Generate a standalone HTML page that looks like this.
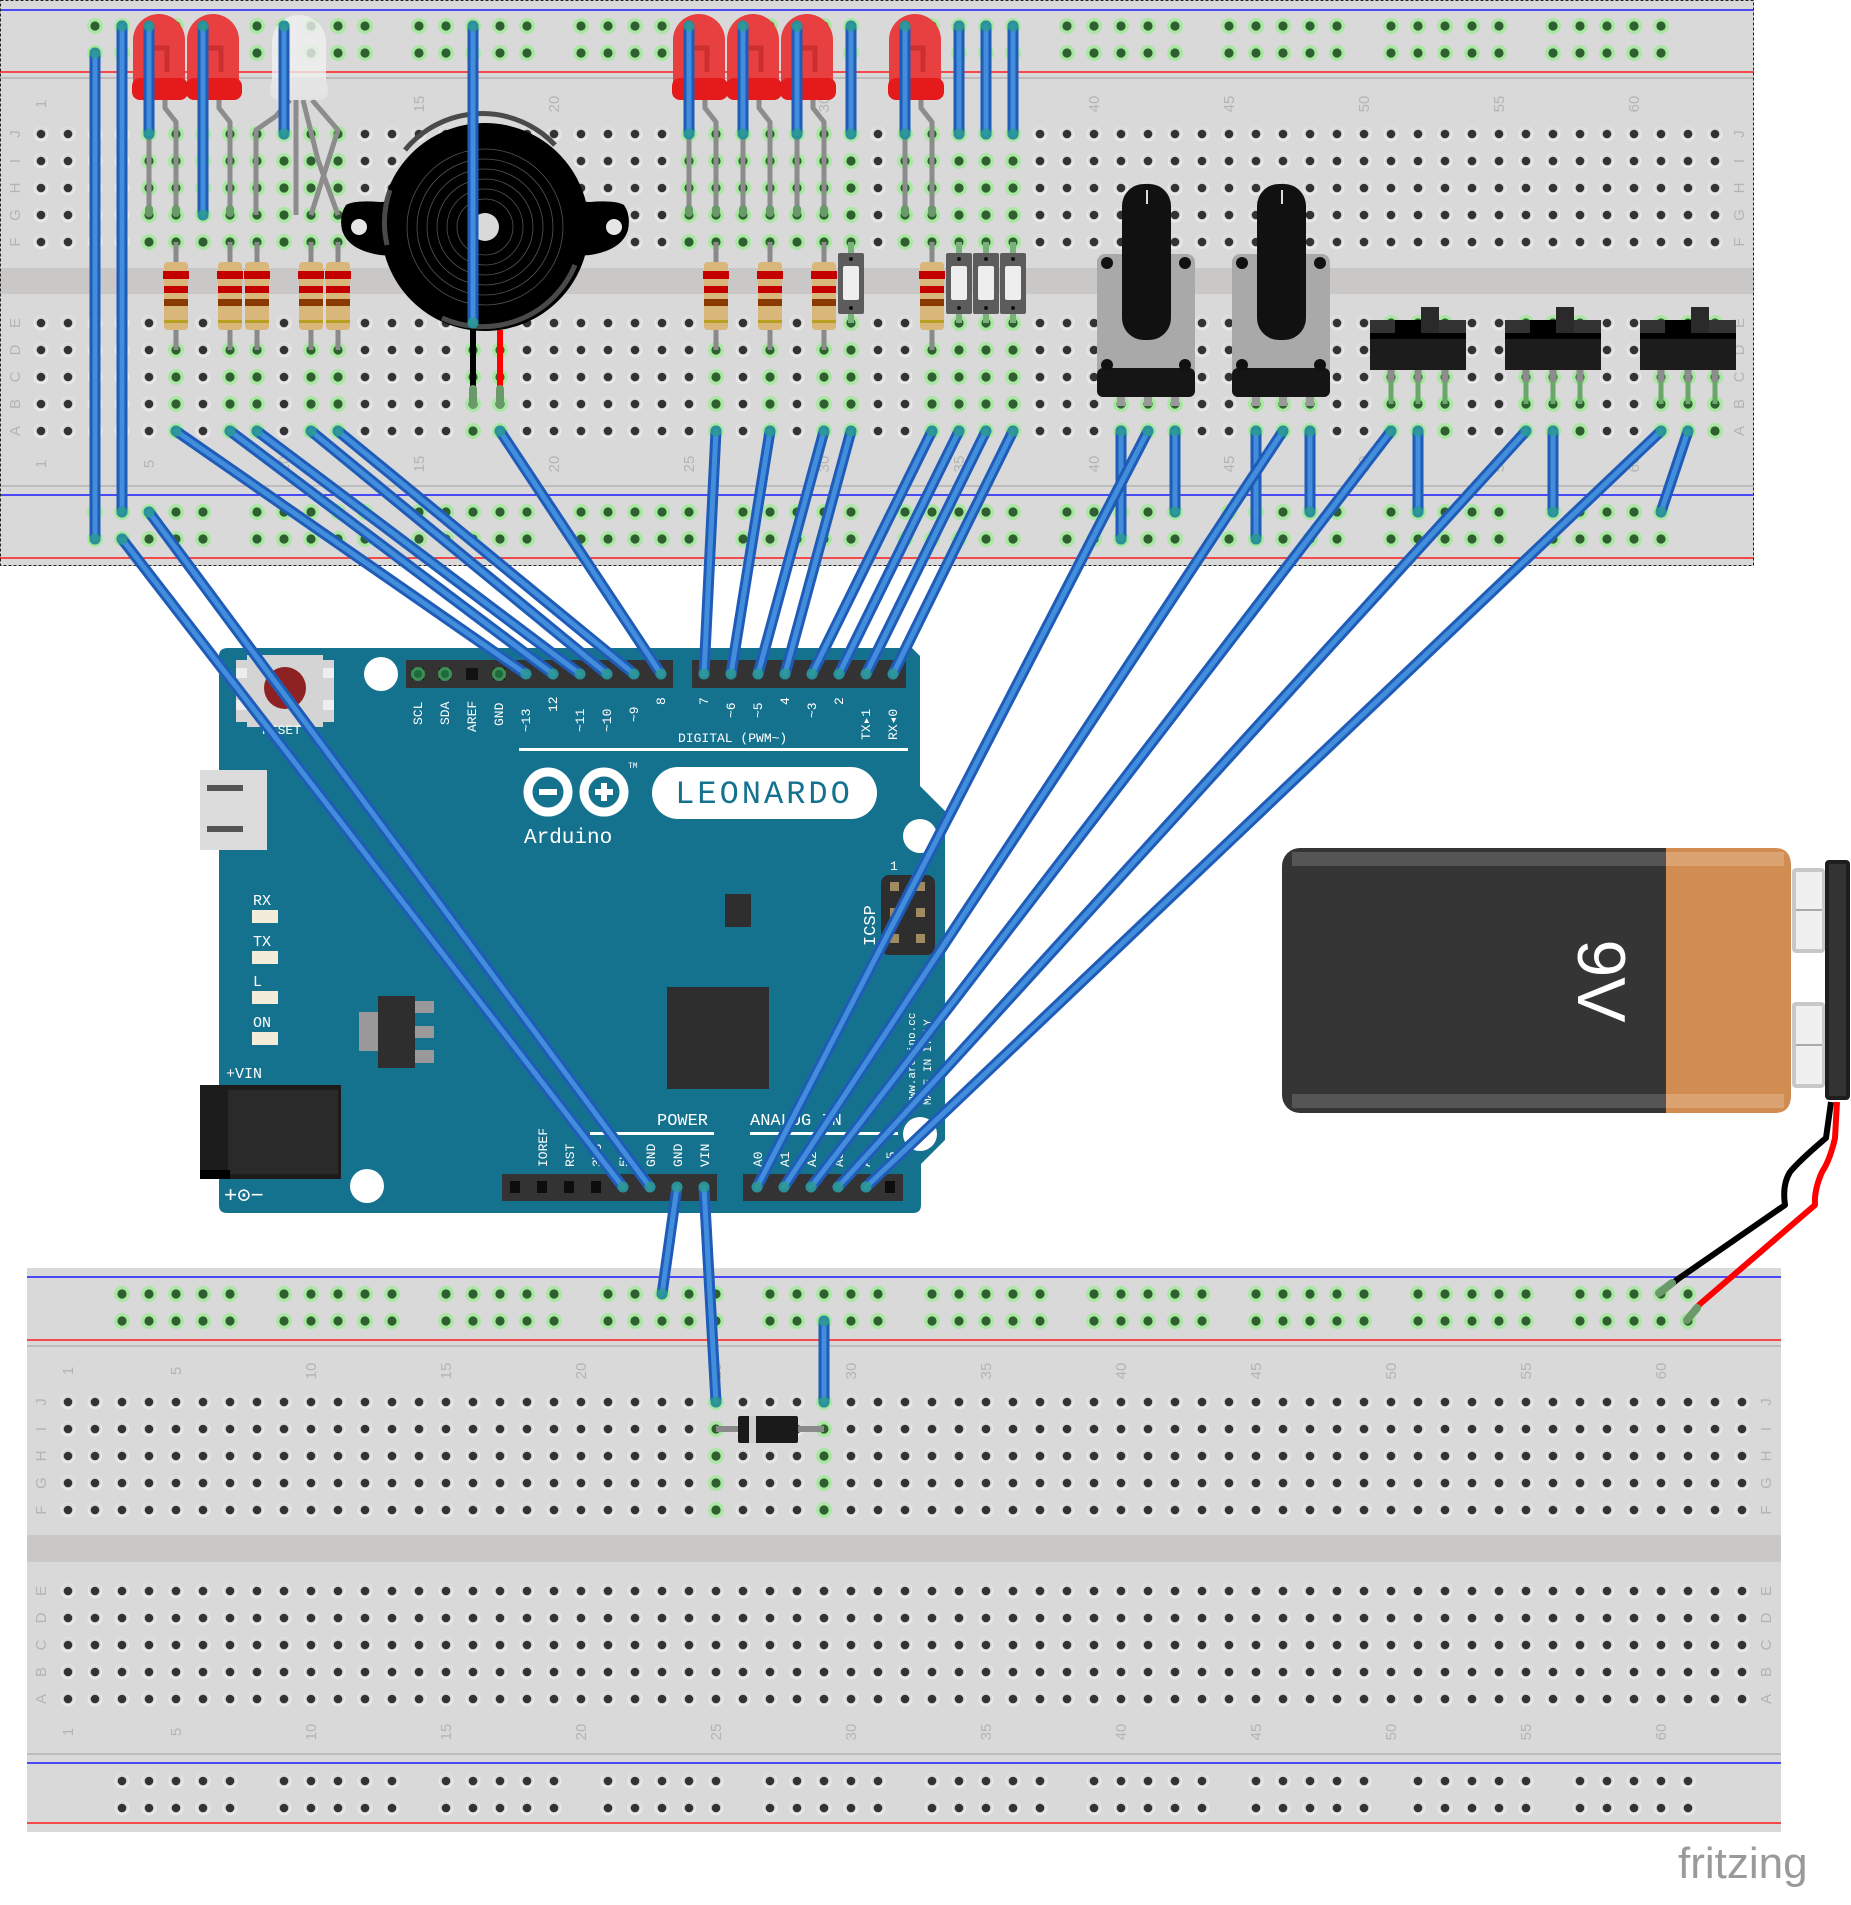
<!DOCTYPE html>
<html><head><meta charset="utf-8">
<style>
html,body{margin:0;padding:0;background:#fff;}
svg{display:block;}
.lbl{font-family:"Liberation Sans",sans-serif;font-size:15px;fill:#b4b4b4;}
.ard{font-family:"Liberation Mono",monospace;fill:#fff;}
</style></head>
<body>
<svg id="s" width="1851" height="1905" viewBox="0 0 1851 1905" xmlns="http://www.w3.org/2000/svg">
<rect x="0" y="0" width="1754" height="566" fill="#d9d9d9"/>
<rect x="0" y="268" width="1754" height="26" fill="#cac8c6"/>
<line x1="0" y1="10" x2="1754" y2="10" stroke="#1a1aff" stroke-width="1.5"/>
<line x1="0" y1="72" x2="1754" y2="72" stroke="#ff1a1a" stroke-width="1.5"/>
<line x1="0" y1="78" x2="1754" y2="78" stroke="#bdbdbd" stroke-width="2"/>
<line x1="0" y1="486" x2="1754" y2="486" stroke="#bdbdbd" stroke-width="2"/>
<line x1="0" y1="495" x2="1754" y2="495" stroke="#1a1aff" stroke-width="1.5"/>
<line x1="0" y1="558" x2="1754" y2="558" stroke="#ff1a1a" stroke-width="1.5"/>
<rect x="0.5" y="0.5" width="1753" height="565" fill="none" stroke="#222" stroke-dasharray="3,2"/>
<rect x="27" y="1268" width="1754" height="564" fill="#d9d9d9"/>
<rect x="27" y="1535" width="1754" height="27" fill="#cac8c6"/>
<line x1="27" y1="1277" x2="1781" y2="1277" stroke="#1a1aff" stroke-width="1.5"/>
<line x1="27" y1="1340" x2="1781" y2="1340" stroke="#ff1a1a" stroke-width="1.5"/>
<line x1="27" y1="1346" x2="1781" y2="1346" stroke="#bdbdbd" stroke-width="2"/>
<line x1="27" y1="1754" x2="1781" y2="1754" stroke="#bdbdbd" stroke-width="2"/>
<line x1="27" y1="1763" x2="1781" y2="1763" stroke="#1a1aff" stroke-width="1.5"/>
<line x1="27" y1="1823" x2="1781" y2="1823" stroke="#ff1a1a" stroke-width="1.5"/>

<g class="lbl" text-anchor="middle">
<text transform="translate(46,104) rotate(-90)">1</text><text transform="translate(154,104) rotate(-90)">5</text><text transform="translate(289,104) rotate(-90)">10</text><text transform="translate(424,104) rotate(-90)">15</text><text transform="translate(559,104) rotate(-90)">20</text><text transform="translate(694,104) rotate(-90)">25</text><text transform="translate(829,104) rotate(-90)">30</text><text transform="translate(964,104) rotate(-90)">35</text><text transform="translate(1099,104) rotate(-90)">40</text><text transform="translate(1234,104) rotate(-90)">45</text><text transform="translate(1369,104) rotate(-90)">50</text><text transform="translate(1504,104) rotate(-90)">55</text><text transform="translate(1639,104) rotate(-90)">60</text>
<text transform="translate(46,464) rotate(-90)">1</text><text transform="translate(154,464) rotate(-90)">5</text><text transform="translate(289,464) rotate(-90)">10</text><text transform="translate(424,464) rotate(-90)">15</text><text transform="translate(559,464) rotate(-90)">20</text><text transform="translate(694,464) rotate(-90)">25</text><text transform="translate(829,464) rotate(-90)">30</text><text transform="translate(964,464) rotate(-90)">35</text><text transform="translate(1099,464) rotate(-90)">40</text><text transform="translate(1234,464) rotate(-90)">45</text><text transform="translate(1369,464) rotate(-90)">50</text><text transform="translate(1504,464) rotate(-90)">55</text><text transform="translate(1639,464) rotate(-90)">60</text>
<text transform="translate(20,134) rotate(-90)">J</text><text transform="translate(20,161) rotate(-90)">I</text><text transform="translate(20,188) rotate(-90)">H</text><text transform="translate(20,215) rotate(-90)">G</text><text transform="translate(20,242) rotate(-90)">F</text>
<text transform="translate(20,323) rotate(-90)">E</text><text transform="translate(20,350) rotate(-90)">D</text><text transform="translate(20,377) rotate(-90)">C</text><text transform="translate(20,404) rotate(-90)">B</text><text transform="translate(20,431) rotate(-90)">A</text>
<text transform="translate(1744,134) rotate(-90)">J</text><text transform="translate(1744,161) rotate(-90)">I</text><text transform="translate(1744,188) rotate(-90)">H</text><text transform="translate(1744,215) rotate(-90)">G</text><text transform="translate(1744,242) rotate(-90)">F</text>
<text transform="translate(1744,323) rotate(-90)">E</text><text transform="translate(1744,350) rotate(-90)">D</text><text transform="translate(1744,377) rotate(-90)">C</text><text transform="translate(1744,404) rotate(-90)">B</text><text transform="translate(1744,431) rotate(-90)">A</text>
<text transform="translate(73,1371) rotate(-90)">1</text><text transform="translate(181,1371) rotate(-90)">5</text><text transform="translate(316,1371) rotate(-90)">10</text><text transform="translate(451,1371) rotate(-90)">15</text><text transform="translate(586,1371) rotate(-90)">20</text><text transform="translate(721,1371) rotate(-90)">25</text><text transform="translate(856,1371) rotate(-90)">30</text><text transform="translate(991,1371) rotate(-90)">35</text><text transform="translate(1126,1371) rotate(-90)">40</text><text transform="translate(1261,1371) rotate(-90)">45</text><text transform="translate(1396,1371) rotate(-90)">50</text><text transform="translate(1531,1371) rotate(-90)">55</text><text transform="translate(1666,1371) rotate(-90)">60</text>
<text transform="translate(73,1732) rotate(-90)">1</text><text transform="translate(181,1732) rotate(-90)">5</text><text transform="translate(316,1732) rotate(-90)">10</text><text transform="translate(451,1732) rotate(-90)">15</text><text transform="translate(586,1732) rotate(-90)">20</text><text transform="translate(721,1732) rotate(-90)">25</text><text transform="translate(856,1732) rotate(-90)">30</text><text transform="translate(991,1732) rotate(-90)">35</text><text transform="translate(1126,1732) rotate(-90)">40</text><text transform="translate(1261,1732) rotate(-90)">45</text><text transform="translate(1396,1732) rotate(-90)">50</text><text transform="translate(1531,1732) rotate(-90)">55</text><text transform="translate(1666,1732) rotate(-90)">60</text>
<text transform="translate(46,1402) rotate(-90)">J</text><text transform="translate(46,1429) rotate(-90)">I</text><text transform="translate(46,1456) rotate(-90)">H</text><text transform="translate(46,1483) rotate(-90)">G</text><text transform="translate(46,1510) rotate(-90)">F</text>
<text transform="translate(46,1591) rotate(-90)">E</text><text transform="translate(46,1618) rotate(-90)">D</text><text transform="translate(46,1645) rotate(-90)">C</text><text transform="translate(46,1672) rotate(-90)">B</text><text transform="translate(46,1699) rotate(-90)">A</text>
<text transform="translate(1771,1402) rotate(-90)">J</text><text transform="translate(1771,1429) rotate(-90)">I</text><text transform="translate(1771,1456) rotate(-90)">H</text><text transform="translate(1771,1483) rotate(-90)">G</text><text transform="translate(1771,1510) rotate(-90)">F</text>
<text transform="translate(1771,1591) rotate(-90)">E</text><text transform="translate(1771,1618) rotate(-90)">D</text><text transform="translate(1771,1645) rotate(-90)">C</text><text transform="translate(1771,1672) rotate(-90)">B</text><text transform="translate(1771,1699) rotate(-90)">A</text>
</g>

<g id="holes"></g>
<g id="comps"></g>

<g>
<path d="M346,205 Q339,215 342,230 Q348,250 380,255 L420,258 L420,200 L380,202 Q355,200 346,205Z" fill="#000"/>
<path d="M624,205 Q631,215 628,230 Q622,250 590,255 L550,258 L550,200 L590,202 Q615,200 624,205Z" fill="#000"/>
<circle cx="359" cy="227" r="8" fill="#e6e6e6"/>
<circle cx="614" cy="227" r="8" fill="#e6e6e6"/>
<circle cx="485" cy="227" r="104" fill="#000"/>
<path d="M405,150 A100,100 0 0 1 555,145" fill="none" stroke="#4a4a4a" stroke-width="5"/>
<path d="M442,318 A100,100 0 0 0 575,265" fill="none" stroke="#4a4a4a" stroke-width="5"/>
<path d="M387,245 A100,100 0 0 1 390,190" fill="none" stroke="#4a4a4a" stroke-width="5"/>
<g fill="none" stroke="#555" stroke-width="0.8">
<circle cx="485" cy="227" r="78"/><circle cx="485" cy="227" r="68"/><circle cx="485" cy="227" r="58"/><circle cx="485" cy="227" r="48"/><circle cx="485" cy="227" r="38"/><circle cx="485" cy="227" r="28"/>
</g>
<circle cx="485" cy="227" r="14" fill="#d9d9d9"/>
<rect x="470" y="330" width="6" height="70" fill="#000"/>
<rect x="497" y="330" width="6" height="60" fill="#f00"/>
<rect x="469" y="385" width="8" height="24" rx="4" fill="#6a9a6a"/>
<rect x="496" y="385" width="8" height="24" rx="4" fill="#6a9a6a"/>
</g>

<g>
<path d="M228,648 H912 L920,656 V786 L945,811 V1140 L921,1164 V1205 Q921,1213 913,1213 H227 Q219,1213 219,1205 V656 Q219,648 228,648Z" fill="#15728f"/>
<rect x="236" y="660" width="98" height="62" fill="#d4d4d4"/>
<rect x="247" y="655" width="76" height="72" fill="#d4d4d4"/>
<rect x="236" y="668" width="11" height="10" fill="#eee"/><rect x="323" y="668" width="11" height="10" fill="#eee"/>
<rect x="236" y="700" width="11" height="10" fill="#eee"/><rect x="323" y="700" width="11" height="10" fill="#eee"/>
<circle cx="285" cy="688" r="21" fill="#8e2222"/>
<text class="ard" x="262" y="734" font-size="13">RESET</text>
<circle cx="381" cy="674" r="17" fill="#fff"/>
<circle cx="920" cy="836" r="17" fill="#fff"/>
<circle cx="920" cy="1134" r="17" fill="#fff"/>
<circle cx="367" cy="1186" r="17" fill="#fff"/>
<rect x="200" y="770" width="67" height="80" fill="#dcdcdc"/>
<rect x="207" y="785" width="36" height="6" fill="#555"/><rect x="207" y="826" width="36" height="6" fill="#555"/>
<rect x="406" y="660" width="267" height="28" fill="#333"/>
<rect x="692" y="660" width="214" height="28" fill="#333"/>
<g fill="#111"><rect x="412" y="668" width="12" height="12"/><rect x="439" y="668" width="12" height="12"/><rect x="466" y="668" width="12" height="12"/><rect x="493" y="668" width="12" height="12"/></g>
<g class="ard" font-size="13">
<text transform="translate(422,725) rotate(-90)">SCL</text>
<text transform="translate(449,725) rotate(-90)">SDA</text>
<text transform="translate(476,732) rotate(-90)">AREF</text>
<text transform="translate(503,726) rotate(-90)">GND</text>
<text transform="translate(530,732) rotate(-90)">~13</text>
<text transform="translate(557,712) rotate(-90)">12</text>
<text transform="translate(584,732) rotate(-90)">~11</text>
<text transform="translate(611,732) rotate(-90)">~10</text>
<text transform="translate(638,722) rotate(-90)">~9</text>
<text transform="translate(665,705) rotate(-90)">8</text>
<text transform="translate(708,705) rotate(-90)">7</text>
<text transform="translate(735,718) rotate(-90)">~6</text>
<text transform="translate(762,718) rotate(-90)">~5</text>
<text transform="translate(789,705) rotate(-90)">4</text>
<text transform="translate(816,718) rotate(-90)">~3</text>
<text transform="translate(843,705) rotate(-90)">2</text>
<text transform="translate(870,740) rotate(-90)">TX▸1</text>
<text transform="translate(897,740) rotate(-90)">RX◂0</text>
<text x="678" y="742" font-size="13">DIGITAL (PWM~)</text>
</g>
<rect x="519" y="748" width="389" height="3" fill="#fff"/>
<g fill="none" stroke="#fff" stroke-width="9">
<circle cx="548" cy="792" r="20"/><circle cx="604" cy="792" r="20"/>
</g>
<rect x="539" y="789" width="18" height="6" fill="#fff"/>
<rect x="595" y="789" width="18" height="6" fill="#fff"/><rect x="601" y="783" width="6" height="18" fill="#fff"/>
<text class="ard" x="628" y="768" font-size="8">TM</text>
<rect x="652" y="767" width="225" height="52" rx="26" fill="#fff"/>
<text x="764" y="803" text-anchor="middle" font-family="Liberation Mono,monospace" font-size="32" fill="#15728f" letter-spacing="3">LEONARDO</text>
<text class="ard" x="524" y="843" font-size="21">Arduino</text>
<g class="ard" font-size="15">
<text x="253" y="905">RX</text><text x="253" y="946">TX</text><text x="253" y="986">L</text><text x="253" y="1027">ON</text>
</g>
<g fill="#f2ecd8"><rect x="252" y="910" width="26" height="13"/><rect x="252" y="951" width="26" height="13"/><rect x="252" y="991" width="26" height="13"/><rect x="252" y="1032" width="26" height="13"/></g>
<rect x="359" y="1012" width="20" height="39" fill="#999"/>
<g fill="#999"><rect x="415" y="1001" width="19" height="12"/><rect x="415" y="1026" width="19" height="12"/><rect x="415" y="1050" width="19" height="13"/></g>
<rect x="378" y="996" width="37" height="72" fill="#2e2e2e"/>
<text class="ard" x="226" y="1078" font-size="15">+VIN</text>
<rect x="200" y="1085" width="141" height="94" fill="#1c1c1c"/>
<rect x="228" y="1090" width="110" height="84" fill="#2a2a2a"/>
<rect x="200" y="1170" width="30" height="9" fill="#000"/>
<text class="ard" x="224" y="1202" font-size="22">+⊙−</text>
<rect x="725" y="894" width="26" height="33" fill="#2e2e2e"/>
<rect x="667" y="987" width="102" height="102" fill="#2e2e2e"/>
<rect x="881" y="875" width="54" height="80" rx="8" fill="#2e2e2e"/>
<g fill="#a08a60"><rect x="890" y="882" width="9" height="9"/><rect x="916" y="882" width="9" height="9"/><rect x="890" y="908" width="9" height="9"/><rect x="916" y="908" width="9" height="9"/><rect x="890" y="934" width="9" height="9"/><rect x="916" y="934" width="9" height="9"/></g>
<text class="ard" transform="translate(875,946) rotate(-90)" font-size="17">ICSP</text>
<text class="ard" x="890" y="870" font-size="13">1</text>
<text class="ard" transform="translate(915,1105) rotate(-90)" font-size="11">www.arduino.cc</text>
<text class="ard" transform="translate(931,1105) rotate(-90)" font-size="11">MADE IN ITALY</text>
<text class="ard" x="657" y="1125" font-size="17">POWER</text>
<text class="ard" x="750" y="1125" font-size="17">ANALOG IN</text>
<rect x="590" y="1132" width="124" height="3" fill="#fff"/>
<rect x="750" y="1132" width="148" height="3" fill="#fff"/>
<g class="ard" font-size="13">
<text transform="translate(547,1167) rotate(-90)">IOREF</text>
<text transform="translate(574,1167) rotate(-90)">RST</text>
<text transform="translate(601,1167) rotate(-90)">3V3</text>
<text transform="translate(628,1167) rotate(-90)">5V</text>
<text transform="translate(655,1167) rotate(-90)">GND</text>
<text transform="translate(682,1167) rotate(-90)">GND</text>
<text transform="translate(709,1167) rotate(-90)">VIN</text>
<text transform="translate(762,1167) rotate(-90)">A0</text>
<text transform="translate(789,1167) rotate(-90)">A1</text>
<text transform="translate(816,1167) rotate(-90)">A2</text>
<text transform="translate(843,1167) rotate(-90)">A3</text>
<text transform="translate(870,1167) rotate(-90)">A4</text>
<text transform="translate(895,1167) rotate(-90)">A5</text>
</g>
<rect x="502" y="1174" width="215" height="27" fill="#333"/>
<rect x="743" y="1174" width="160" height="27" fill="#333"/>
<g fill="#0d0d0d"><rect x="510" y="1181" width="10" height="12"/><rect x="537" y="1181" width="10" height="12"/><rect x="564" y="1181" width="10" height="12"/><rect x="591" y="1181" width="10" height="12"/><rect x="885" y="1181" width="10" height="12"/></g>
<g id="ardpins"></g>
</g>

<g>
<rect x="1282" y="848" width="509" height="265" rx="18" fill="#353535"/>
<path d="M1666,848 H1775 Q1791,848 1791,866 V1095 Q1791,1113 1775,1113 H1666Z" fill="#d18c52"/>
<rect x="1292" y="852" width="374" height="14" fill="#555"/>
<rect x="1292" y="1094" width="374" height="14" fill="#555"/>
<rect x="1666" y="852" width="118" height="14" fill="#dba371"/>
<rect x="1666" y="1094" width="118" height="14" fill="#dba371"/>
<text transform="translate(1578,981) rotate(90)" text-anchor="middle" font-family="Liberation Sans,sans-serif" font-size="68" fill="#fff">9V</text>
<rect x="1792" y="868" width="33" height="85" rx="4" fill="#c8c8c8"/>
<rect x="1796" y="872" width="26" height="77" fill="#f0f0f0"/>
<rect x="1792" y="1002" width="33" height="86" rx="4" fill="#c8c8c8"/>
<rect x="1796" y="1006" width="26" height="78" fill="#f0f0f0"/>
<line x1="1796" y1="910" x2="1822" y2="910" stroke="#aaa" stroke-width="2"/>
<line x1="1796" y1="1045" x2="1822" y2="1045" stroke="#aaa" stroke-width="2"/>
<rect x="1825" y="860" width="25" height="240" rx="4" fill="#1e1e1e"/>
<rect x="1829" y="864" width="17" height="232" fill="#333"/>
<path d="M1831,1102 L1826,1138 Q1800,1160 1790,1172 Q1782,1185 1785,1205 L1678,1279 L1663,1291" fill="none" stroke="#000" stroke-width="6" stroke-linejoin="round"/>
<path d="M1837,1102 L1835,1138 Q1830,1160 1822,1172 Q1814,1190 1815,1205 L1700,1304 L1688,1318" fill="none" stroke="#f00" stroke-width="6" stroke-linejoin="round"/>
<line x1="1672" y1="1283" x2="1659" y2="1293" stroke="#6a9a6a" stroke-width="8" stroke-linecap="round"/>
<line x1="1697" y1="1308" x2="1687" y2="1320" stroke="#6a9a6a" stroke-width="8" stroke-linecap="round"/>
</g>

<g>
<line x1="716" y1="1429" x2="824" y2="1429" stroke="#8a8a8a" stroke-width="6"/>
<rect x="738" y="1416" width="60" height="27" rx="2" fill="#1a1a1a"/>
<rect x="749" y="1416" width="7" height="27" fill="#cfcfcf"/>
</g>

<g id="wires"></g>

<text x="1678" y="1878" font-family="Liberation Sans,sans-serif" font-size="44" fill="#9a9a9a">fritzing</text>
</svg>
<script>
(function(){
var NS='http://www.w3.org/2000/svg';
function el(t,a,p){var e=document.createElementNS(NS,t);for(var k in a)e.setAttribute(k,a[k]);p.appendChild(e);return e;}
var H=document.getElementById('holes'),C=document.getElementById('comps'),W=document.getElementById('wires'),AP=document.getElementById('ardpins');
function hole(x,y,g){
 if(g){el('circle',{cx:x,cy:y,r:8,fill:'#a9e7a3'},H);el('circle',{cx:x,cy:y,r:4.6,fill:'#2f5f30'},H);}
 else{el('circle',{cx:x,cy:y,r:7.5,fill:'#e9e9e9'},H);el('circle',{cx:x,cy:y-1,r:6,fill:'#c9c9c9',opacity:0.5},H);el('circle',{cx:x,cy:y,r:4.3,fill:'#333'},H);}
}
function c(n){return 41+27*(n-1);}
function lc(n){return 68+27*(n-1);}
var topG={},botG={};
[5,6,7,8,9,10,11,12,25,26,27,28,29,30,31,33,34,35,36,37].forEach(function(n){topG[n]=1;});
[6,8,9,11,12,17,18,26,28,30,31,34,35,36,37,41,42,43,46,47,48,51,52,53,56,57,58,61,62,63].forEach(function(n){botG[n]=1;});
var tRows=[134,161,188,215,242],bRows=[323,350,377,404,431];
for(var n=1;n<=63;n++){
 tRows.forEach(function(y){hole(c(n),y,topG[n]);});
 bRows.forEach(function(y){hole(c(n),y,botG[n]);});
 [1402,1429,1456,1483,1510].forEach(function(y){hole(lc(n),y,n==25||n==29);});
 [1591,1618,1645,1672,1699].forEach(function(y){hole(lc(n),y,false);});
}
for(var g=0;g<10;g++)for(var k=0;k<5;k++){
 var n=3+6*g+k;
 [26,53,512,539].forEach(function(y){hole(c(n),y,true);});
 [1294,1321].forEach(function(y){hole(lc(n),y,true);});
 [1781,1808].forEach(function(y){hole(lc(n),y,false);});
}
[6,8,9,11,12,26,28,30,34].forEach(function(n){
 var x=c(n);
 el('line',{x1:x,y1:242,x2:x,y2:350,stroke:'#8a8a8a','stroke-width':5},C);
 el('rect',{x:x-12,y:262,width:24,height:68,rx:4,fill:'#d9b77a'},C);
 el('rect',{x:x-13,y:271,width:26,height:8,fill:'#c40000'},C);
 el('rect',{x:x-12,y:286,width:24,height:7,fill:'#c40000'},C);
 el('rect',{x:x-12,y:299,width:24,height:7,fill:'#8a3a00'},C);
 el('rect',{x:x-12,y:320,width:24,height:3,fill:'#b8a020'},C);
});
[31,35,36,37].forEach(function(n){
 var x=c(n);
 el('line',{x1:x,y1:242,x2:x,y2:323,stroke:'#7ab07a','stroke-width':6},C);
 el('rect',{x:x-13,y:253,width:26,height:61,rx:2,fill:'#5c5c5c'},C);
 el('rect',{x:x-8,y:266,width:16,height:34,rx:2,fill:'#eee'},C);
 el('circle',{cx:x,cy:259,r:2,fill:'#111'},C);el('circle',{cx:x,cy:308,r:2,fill:'#111'},C);
});
function legs(xs,path){el('path',{d:path,fill:'none',stroke:'#8c8c8c','stroke-width':5,'stroke-linejoin':'round'},C);}
[5,7,25,27,29,33].forEach(function(n){
 var L=c(n),R=c(n+1),cx=L+10;
 legs(0,'M'+L+',95 V215');
 legs(0,'M'+(cx+6)+',95 V108 L'+R+',122 V215');
 el('path',{d:'M'+(cx-26)+',95 V40 A26,26 0 0 1 '+(cx+26)+',40 V95Z',fill:'#e84040'},C);
 el('rect',{x:cx-27,y:78,width:56,height:22,rx:8,fill:'#e51a1a'},C);
 el('path',{d:'M'+(cx-8)+',72 V48 L'+(cx+8)+',48 L'+(cx+8)+',72',fill:'none',stroke:'#c02828','stroke-width':5,opacity:0.7},C);
 el('rect',{x:L-4,y:205,width:8,height:12,rx:4,fill:'#6a9a6a'},C);
 el('rect',{x:R-4,y:205,width:8,height:12,rx:4,fill:'#6a9a6a'},C);
});
legs(0,'M290,100 L276,116 L256,130 V215');
legs(0,'M296,100 V215');
legs(0,'M303,100 L318,160 L338,215');
legs(0,'M312,100 L338,130 L311,215');
el('path',{d:'M272,95 V42 A27,27 0 0 1 326,42 V95Z',fill:'#f0f0f0',opacity:0.8},C);
el('rect',{x:270,y:78,width:58,height:22,rx:8,fill:'#e4e4e4',opacity:0.85},C);
[0,135].forEach(function(o){
 [41,42,43].forEach(function(n){var x=c(n+o/27);el('rect',{x:x-4,y:392,width:8,height:14,fill:'#999'},C);});
 el('rect',{x:1097+o,y:254,width:98,height:124,rx:8,fill:'#a9a9a9'},C);
 el('rect',{x:1097+o,y:368,width:98,height:29,rx:6,fill:'#151515'},C);
 [[1107,263],[1185,263],[1107,365],[1185,365]].forEach(function(p){el('circle',{cx:p[0]+o,cy:p[1],r:6,fill:'#111'},C);});
 el('rect',{x:1122+o,y:184,width:49,height:156,rx:22,fill:'#111'},C);
 el('rect',{x:1146+o,y:190,width:2,height:14,fill:'#ddd'},C);
});
[0,135,270].forEach(function(o){
 [51,52,53].forEach(function(n){var x=c(n)+o;
  el('line',{x1:x,y1:368,x2:x,y2:382,stroke:'#8c8c8c','stroke-width':7},C);
  el('line',{x1:x,y1:382,x2:x,y2:404,stroke:'#6aa86a','stroke-width':5},C);});
 el('rect',{x:1370+o,y:320,width:96,height:50,fill:'#1c1c1c'},C);
 el('rect',{x:1370+o,y:320,width:96,height:13,fill:'#333'},C);
 el('rect',{x:1395+o,y:320,width:40,height:13,fill:'#000'},C);
 el('rect',{x:1370+o,y:333,width:96,height:6,fill:'#000'},C);
 el('rect',{x:1421+o,y:307,width:18,height:26,fill:'#2a2a2a'},C);
});
function pin(x,y,b){el('circle',{cx:x,cy:y,r:7,fill:b?'#2a55b0':'#3c8f55'},AP);el('circle',{cx:x,cy:y,r:4,fill:b?'#2a55b0':'#1d6a3a'},AP);}
[418,445,499].forEach(function(x){pin(x,674);});
function wire(x1,y1,x2,y2){
 el('line',{x1:x1,y1:y1,x2:x2,y2:y2,stroke:'#1f5cb8','stroke-width':11,'stroke-linecap':'round'},W);
 el('line',{x1:x1,y1:y1,x2:x2,y2:y2,stroke:'#428ddc','stroke-width':5,'stroke-linecap':'round'},W);
 [[x1,y1],[x2,y2]].forEach(function(p){el('circle',{cx:p[0],cy:p[1],r:5.5,fill:'#2c9a90',opacity:0.85},W);});
}
wire(c(3),53,c(3),539);wire(c(4),26,c(4),512);wire(c(5),26,c(5),134);wire(c(7),26,c(7),215);wire(c(10),26,c(10),134);
wire(c(17),26,c(17),323);
[25,27,29,31,33,35,36,37].forEach(function(n){wire(c(n),26,c(n),134);});
wire(c(41),431,c(41),539);wire(c(43),431,c(43),512);wire(c(46),431,c(46),539);wire(c(48),431,c(48),512);
wire(c(52),431,c(52),512);wire(c(57),431,c(57),512);wire(c(62),431,c(61),512);
wire(c(4),539,623,1187);wire(c(5),512,650,1187);
[[6,526],[8,553],[9,580],[11,607],[12,634],[18,661],[26,704],[28,731],[30,758],[31,785],[34,812],[35,839],[36,866],[37,893]].forEach(function(p){wire(c(p[0]),431,p[1],674);});
[[42,757],[47,784],[51,811],[56,838],[61,866]].forEach(function(p){wire(c(p[0]),431,p[1],1187);});
wire(677,1187,lc(23),1294);wire(704,1187,lc(25),1402);wire(lc(29),1321,lc(29),1402);
})();
</script>
</body></html>
